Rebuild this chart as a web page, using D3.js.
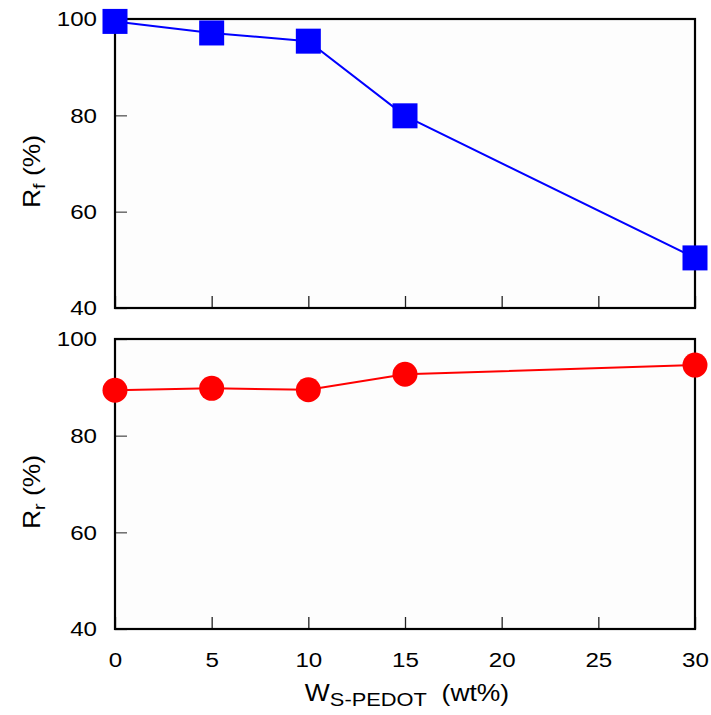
<!DOCTYPE html>
<html><head><meta charset="utf-8">
<script src="https://cdn.jsdelivr.net/npm/d3@7"></script>
<style>body{margin:0;background:#fff}svg{display:block}text{font-family:"Liberation Sans",Arial,sans-serif;fill:#000}</style>
</head><body>
<script>
const xValues = [0, 5, 10, 15, 30];
const rfValues = [99.5, 97.1, 95.4, 79.9, 50.4];
const rrValues = [89.4, 89.8, 89.5, 92.7, 94.6];
const xTicks = [0, 5, 10, 15, 20, 25, 30];
const yTicks = [40, 60, 80, 100];

const W = 711, H = 715, SX = 1.15;
const svg = d3.select("body").append("svg").attr("width", W).attr("height", H);
const left = 115, right = 695;
const x = d3.scaleLinear().domain([0, 30]).range([left, right]);

function stretch(sel) {
  sel.each(function () {
    const t = d3.select(this);
    const tx = +t.attr("x") || 0, ty = +t.attr("y") || 0;
    t.attr("x", 0).attr("y", 0).attr("transform", `translate(${tx},${ty}) scale(${SX},1)`);
  });
}

function panel(top, bottom, values, color, shape, showXLabels, labelSub) {
  const y = d3.scaleLinear().domain([40, 100]).range([bottom, top]);
  svg.append("rect").attr("x", left).attr("y", top).attr("width", right - left).attr("height", bottom - top)
    .attr("fill", "#fdfdfd");
  const ya = svg.append("g").attr("transform", `translate(${left},0)`)
    .call(d3.axisLeft(y).tickValues(yTicks).tickSize(-12).tickPadding(18).tickFormat(d3.format("d")));
  ya.select(".domain").remove();
  ya.selectAll(".tick line").attr("stroke", "#555").attr("stroke-width", 1.3);
  ya.selectAll(".tick text").attr("font-size", 21).attr("font-family", "Liberation Sans, Arial, sans-serif").call(stretch);
  const xa = svg.append("g").attr("transform", `translate(0,${bottom})`)
    .call(d3.axisBottom(x).tickValues(xTicks).tickSize(-12).tickPadding(23).tickFormat(showXLabels ? d3.format("d") : () => ""));
  xa.select(".domain").remove();
  xa.selectAll(".tick line").attr("stroke", "#222").attr("stroke-width", 1.3);
  xa.selectAll(".tick text").attr("font-size", 21).attr("font-family", "Liberation Sans, Arial, sans-serif").call(stretch);
  svg.append("rect").attr("x", left).attr("y", top).attr("width", right - left).attr("height", bottom - top)
    .attr("fill", "none").attr("stroke", "#000").attr("stroke-width", 2.2);
  const line = d3.line().x((d, i) => x(xValues[i])).y(d => y(d));
  svg.append("path").datum(values).attr("d", line).attr("fill", "none").attr("stroke", color).attr("stroke-width", 2);
  if (shape === "square") {
    svg.selectAll(null).data(values).enter().append("rect")
      .attr("x", (d, i) => x(xValues[i]) - 12.5).attr("y", d => y(d) - 12.5)
      .attr("width", 25).attr("height", 25).attr("fill", color);
  } else {
    svg.selectAll(null).data(values).enter().append("circle")
      .attr("cx", (d, i) => x(xValues[i])).attr("cy", d => y(d)).attr("r", 12.5).attr("fill", color);
  }
  const cy = (top + bottom) / 2 + 8;
  const t = svg.append("text").attr("transform", `translate(40,${cy}) rotate(-90) scale(${SX},1)`)
    .attr("text-anchor", "middle").attr("font-size", 23);
  t.append("tspan").text("R");
  t.append("tspan").attr("font-size", 17).attr("dy", 5).text(labelSub);
  t.append("tspan").attr("dy", -5).text(" (%)");
}

panel(19, 308, rfValues, "#0000ff", "square", false, "f");
panel(339, 629, rrValues, "#ff0000", "circle", true, "r");

const xl = svg.append("text").attr("transform", `translate(407,701) scale(${SX},1)`)
  .attr("text-anchor", "middle").attr("font-size", 23);
xl.append("tspan").text("W");
xl.append("tspan").attr("font-size", 19).attr("dy", 5).text("S-PEDOT");
xl.append("tspan").attr("dy", -5).attr("xml:space", "preserve").text("  (wt%)");
</script>
</body></html>
